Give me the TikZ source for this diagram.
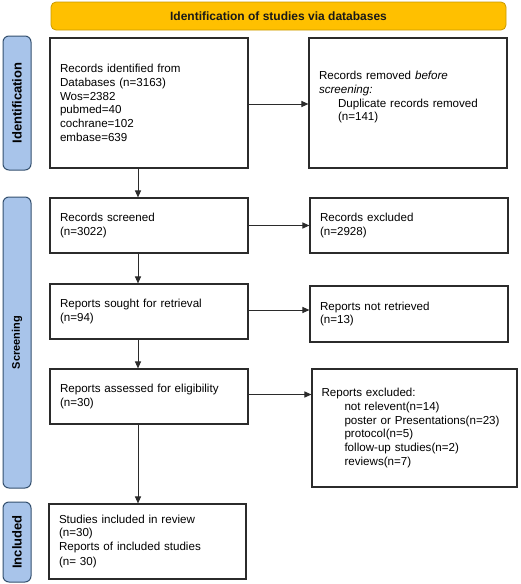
\documentclass[tikz,border=0pt]{standalone}
\usepackage{fontspec}
\setmainfont{Liberation Sans}
\usetikzlibrary{arrows.meta}
\definecolor{bannerfill}{HTML}{FFC000}
\definecolor{bannerdraw}{HTML}{C99A00}
\definecolor{barfill}{HTML}{A8C4EA}
\definecolor{bardraw}{HTML}{34506F}
\definecolor{boxdraw}{HTML}{2B2B2B}
\begin{document}
\begin{tikzpicture}[x=1pt,y=-1pt,
  box/.style={draw=boxdraw, line width=1.1pt, fill=white, align=left,
    inner xsep=10pt, inner ysep=0pt, font=\fontsize{11.6}{13.7}\selectfont},
  bar/.style={draw=bardraw, fill=barfill, line width=1pt, rounded corners=6pt,
    rotate=90, minimum height=28pt, inner sep=0pt},
  arr/.style={draw=boxdraw, line width=1pt, -{Triangle[length=7pt,width=6pt]}}]
\useasboundingbox (0,0) rectangle (520,584);

% banner
\node[draw=bannerdraw, fill=bannerfill, line width=0.8pt, rounded corners=5pt,
  minimum width=455pt, minimum height=28pt, inner sep=0pt,
  font=\bfseries\fontsize{12}{14}\selectfont, text=black!90] (banner) at (278.5,16)
  {Identification of studies via databases};

% side bars
\node[bar, minimum width=134pt, font=\bfseries\fontsize{13}{15}\selectfont] (barid) at (17,103) {Identification};
\node[bar, minimum width=291pt, font=\bfseries\fontsize{11}{13}\selectfont] (barscr) at (17,342.5) {Screening};
\node[bar, minimum width=80pt, font=\bfseries\fontsize{13}{15}\selectfont] (barinc) at (17,542) {Included};

% left column
\node[box, text width=178pt, minimum height=130pt] (ident) at (149,103)
  {Records identified from\\Databases (n=3163)\\Wos=2382\\pubmed=40\\cochrane=102\\embase=639};
\node[box, text width=178pt, minimum height=55pt] (scr) at (149,225.5)
  {Records screened\\(n=3022)};
\node[box, text width=178pt, minimum height=55pt] (sought) at (149,311.5)
  {Reports sought for retrieval\\(n=94)};
\node[box, text width=178pt, minimum height=55pt] (assess) at (149,396.5)
  {Reports assessed for eligibility\\(n=30)};
\node[box, text width=177pt, inner xsep=9pt, minimum width=197pt, minimum height=75pt] (incl) at (147.5,541.5)
  {Studies included in review\\(n=30)\\Reports of included studies\\[1.5pt](n= 30)};

% right column
\node[box, text width=178pt, minimum height=130pt] (removed) at (408,103)
  {Records removed \textit{before}\\\textit{screening:}\\\hspace*{19pt}Duplicate records removed\\\hspace*{19pt}(n=141)\\\mbox{}};
\node[box, text width=178pt, minimum height=55pt] (excl) at (409,225.5)
  {Records excluded\\(n=2928)};
\node[box, text width=178pt, minimum height=56pt] (notret) at (409,314)
  {Reports not retrieved\\(n=13)};
\node[box, text width=186pt, inner xsep=9pt, minimum width=205pt, minimum height=118pt] (rexcl) at (414.5,428)
  {Reports excluded:\\\hspace*{23pt}not relevent(n=14)\\\hspace*{23pt}poster or Presentations(n=23)\\\hspace*{23pt}protocol(n=5)\\\hspace*{23pt}follow-up studies(n=2)\\\hspace*{23pt}reviews(n=7)};

% horizontal arrows
\draw[arr] ([yshift=-1pt]ident.east) -- ([yshift=-1pt]ident.east -| removed.west);
\draw[arr] (scr.east) -- (scr.east -| excl.west);
\draw[arr] ([yshift=1.5pt]sought.east) -- ([yshift=1.5pt]sought.east -| notret.west);
\draw[arr] ([yshift=2pt]assess.east) -- ([yshift=2pt]assess.east -| rexcl.west);

% vertical arrows
\draw[arr] ([xshift=-11pt]ident.south) -- ([xshift=-11pt]ident.south |- scr.north);
\draw[arr] ([xshift=-11pt]scr.south) -- ([xshift=-11pt]scr.south |- sought.north);
\draw[arr] ([xshift=-11pt]sought.south) -- ([xshift=-11pt]sought.south |- assess.north);
\draw[arr] ([xshift=-11pt]assess.south) -- ([xshift=-11pt]assess.south |- incl.north);
\end{tikzpicture}
\end{document}
